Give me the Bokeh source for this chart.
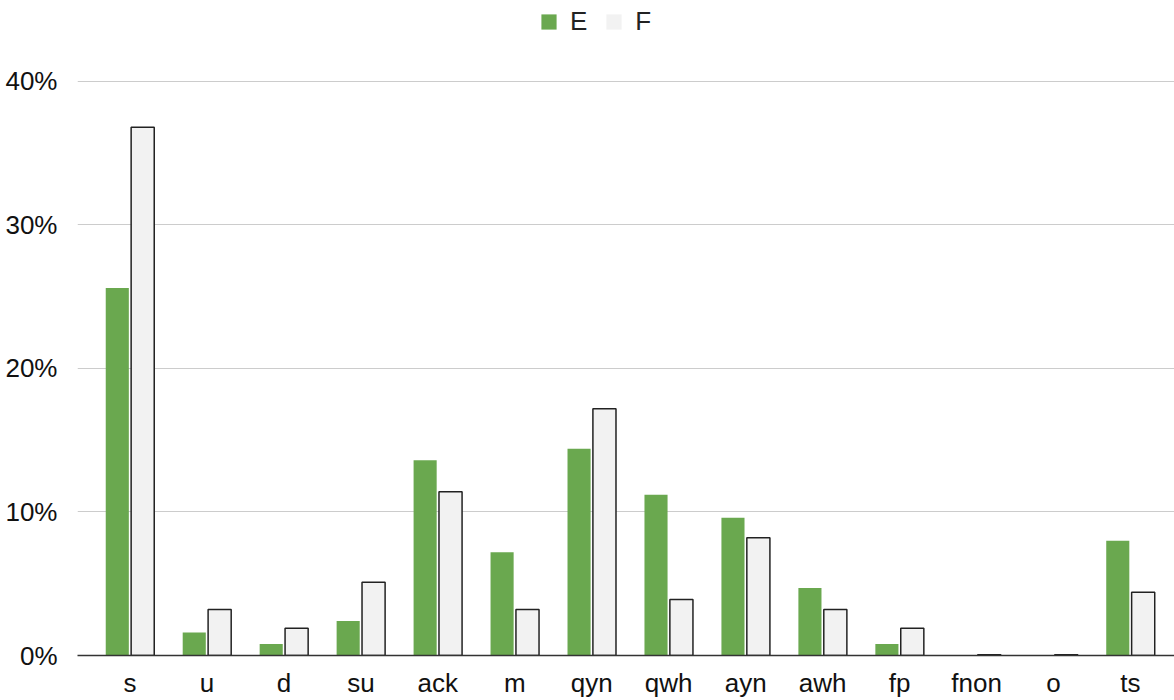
from bokeh.plotting import figure
from bokeh.models import (ColumnDataSource, Range1d, FixedTicker, PrintfTickFormatter,
                          Legend, LegendItem)
from bokeh.transform import dodge
from bokeh.embed import file_html
from bokeh.resources import INLINE

# Share of responses per category (%)
categories = ["s", "u", "d", "su", "ack", "m", "qyn", "qwh", "ayn", "awh", "fp", "fnon", "o", "ts"]
series_e = [25.6, 1.6, 0.8, 2.4, 13.6, 7.2, 14.4, 11.2, 9.6, 4.7, 0.8, 0.0, 0.0, 8.0]
series_f = [36.8, 3.2, 1.9, 5.1, 11.4, 3.2, 17.2, 3.9, 8.2, 3.2, 1.9, 0.05, 0.05, 4.4]
y_ticks = [0, 10, 20, 30, 40]

GREEN = "#6aa84f"
GREY = "#f2f2f2"
FONT = "Liberation Sans"
FONT_SIZE = "26px"

idx = list(range(len(categories)))
src = ColumnDataSource(dict(x=idx, e=series_e, f=series_f))

p = figure(width=1174, height=700, output_backend="svg", toolbar_location=None,
           x_range=Range1d(-0.682, 13.572), y_range=Range1d(0, 40 + 81 / 14.375),
           min_border_left=77, min_border_right=0, min_border_top=0, min_border_bottom=44,
           outline_line_color=None, background_fill_color="white", border_fill_color="white")

off = 0.165
w = 0.30
r_e = p.vbar(x=dodge("x", -off, range=p.x_range), top="e", width=w, source=src,
             fill_color=GREEN, line_color=None)
r_f_fill = p.vbar(x=dodge("x", off, range=p.x_range), top="f", width=w, source=src,
                  fill_color=GREY, line_color=None)
p.vbar(x=dodge("x", off, range=p.x_range), top="f", width=w, source=src,
       fill_color=None, line_color="#222222", line_width=1.5)

# axes
p.xaxis.ticker = FixedTicker(ticks=idx)
p.xaxis.major_label_overrides = {i: c for i, c in enumerate(categories)}
p.xaxis.major_tick_line_color = None
p.xaxis.minor_tick_line_color = None
p.xaxis.axis_line_color = "#333333"
p.xaxis.axis_line_width = 1.5
p.xaxis.major_label_standoff = 6
p.xaxis.major_label_text_font = FONT
p.xaxis.major_label_text_font_size = FONT_SIZE
p.xaxis.major_label_text_color = "#111111"

p.yaxis.ticker = FixedTicker(ticks=y_ticks)
p.yaxis.formatter = PrintfTickFormatter(format="%d%%")
p.yaxis.axis_line_color = None
p.yaxis.major_tick_line_color = None
p.yaxis.minor_tick_line_color = None
p.yaxis.major_label_standoff = 14
p.yaxis.major_label_text_font = FONT
p.yaxis.major_label_text_font_size = FONT_SIZE
p.yaxis.major_label_text_color = "#111111"

p.xgrid.grid_line_color = None
p.ygrid.ticker = FixedTicker(ticks=y_ticks[1:])
p.ygrid.grid_line_color = "#cccccc"
p.ygrid.grid_line_width = 1

legend = Legend(items=[LegendItem(label="E", renderers=[r_e]),
                       LegendItem(label="F", renderers=[r_f_fill])],
                orientation="horizontal", location=(539 - 77, 618),
                label_text_font=FONT, label_text_font_size=FONT_SIZE, label_text_color="#222222",
                glyph_width=19, glyph_height=19, spacing=17, label_standoff=12,
                label_width=0, border_line_color=None, background_fill_alpha=0,
                margin=0, padding=0)
p.add_layout(legend, "center")

open("out.html", "w").write(file_html(p, INLINE))
